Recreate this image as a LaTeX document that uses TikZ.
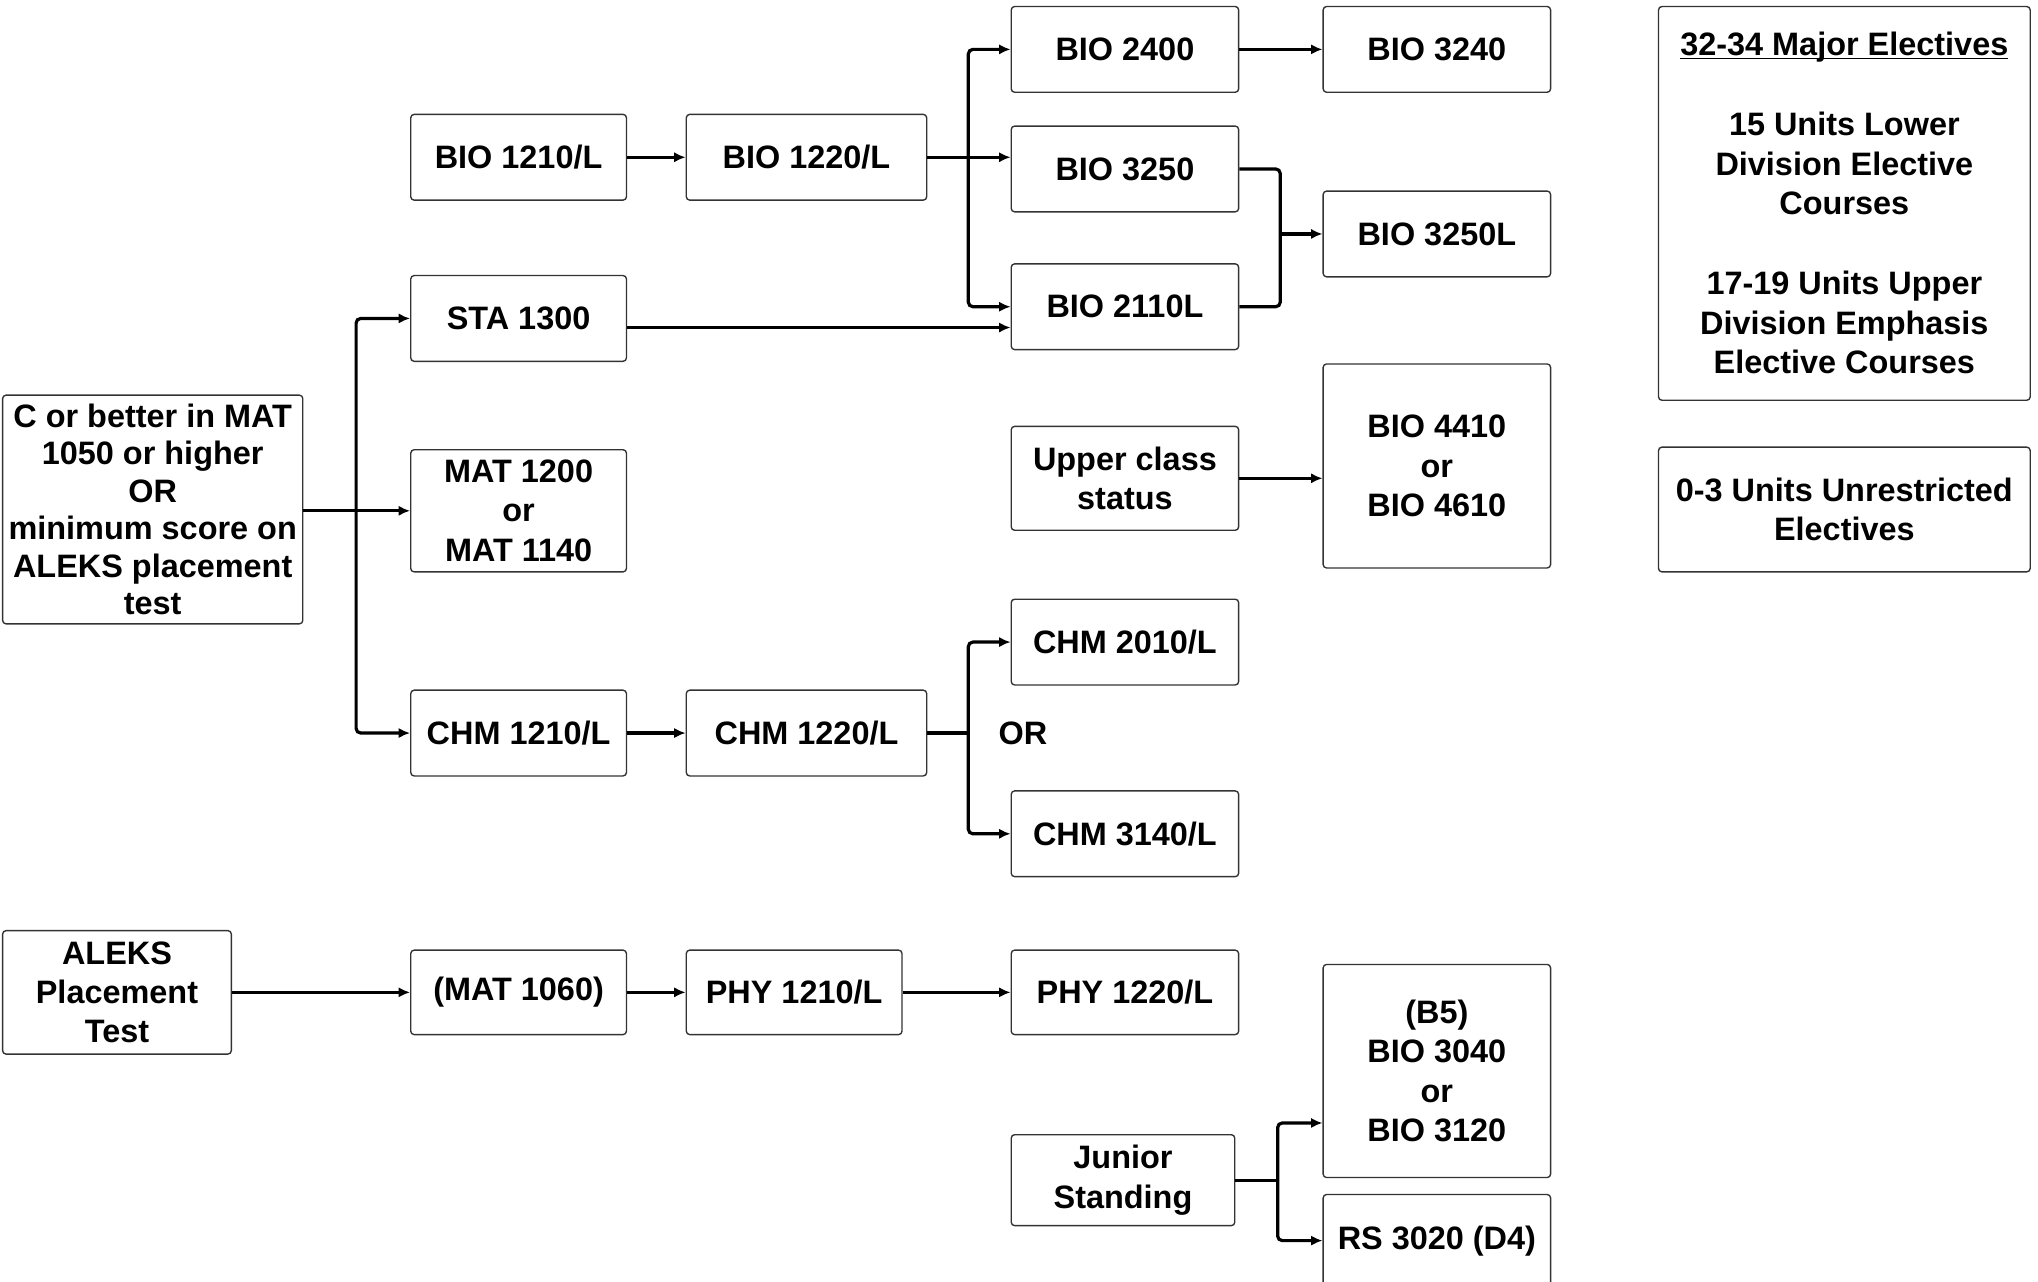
\documentclass[tikz,border=0pt]{standalone}
\usepackage{fontspec}
\setmainfont{Liberation Sans}
\usetikzlibrary{arrows.meta}

\tikzset{
  course/.style={draw=black!80, line width=0.6pt, rounded corners=1.5pt, align=center,
    inner sep=2pt, font=\fontsize{14.2}{17.2}\selectfont\bfseries},
  link/.style={line width=1.4pt, rounded corners=2pt, -{Latex[length=5pt,width=4.5pt]}},
  joint/.style={line width=1.4pt, rounded corners=2pt}
}

\begin{document}
\begin{tikzpicture}[x=0.02cm,y=-0.02cm]

\def\wa{3.32cm} % first column
  \def\wb{3.70cm} % second column
  \def\wc{3.50cm} % third and fourth column
  \def\hh{1.32cm}

\useasboundingbox (0,0) rectangle (1568,986);

% starting points
\node[course, minimum width=4.62cm, minimum height=3.52cm, font=\fontsize{14.2}{16.4}\selectfont\bfseries] (cbox) at (117.5,392)
  {C or better in MAT\\1050 or higher\\OR\\minimum score on\\ALEKS placement\\test};
\node[course, minimum width=3.52cm, minimum height=1.90cm] (aleks) at (90,763.5) {ALEKS\\Placement\\Test};

% first column
\node[course, minimum width=\wa, minimum height=\hh] (bio1210) at (399,121) {BIO 1210/L};
\node[course, minimum width=\wa, minimum height=\hh] (sta) at (399,245) {STA 1300};
\node[course, minimum width=\wa, minimum height=1.88cm] (mat) at (399,393) {MAT 1200\\or\\MAT 1140};
\node[course, minimum width=\wa, minimum height=\hh] (chm1210) at (399,564) {CHM 1210/L};
\node[course, minimum width=\wa, minimum height=1.30cm] (mat1060) at (399,763.5) {(MAT 1060)};

% second column
\node[course, minimum width=\wb, minimum height=\hh] (bio1220) at (620.5,121) {BIO 1220/L};
\node[course, minimum width=\wb, minimum height=\hh] (chm1220) at (620.5,564) {CHM 1220/L};
\node[course, minimum width=\wa, minimum height=1.30cm] (phy1210) at (611,763.5) {PHY 1210/L};

% third column
\node[course, minimum width=\wc, minimum height=\hh] (bio2400) at (865.5,38) {BIO 2400};
\node[course, minimum width=\wc, minimum height=\hh] (bio3250) at (865.5,130) {BIO 3250};
\node[course, minimum width=\wc, minimum height=\hh] (bio2110) at (865.5,236) {BIO 2110L};
\node[course, minimum width=\wc, minimum height=1.60cm] (upper) at (865.5,368) {Upper class\\status};
\node[course, minimum width=\wc, minimum height=\hh] (chm2010) at (865.5,494) {CHM 2010/L};
\node[font=\fontsize{14.2}{17.2}\selectfont\bfseries] (orlabel) at (787,564) {OR};
\node[course, minimum width=\wc, minimum height=\hh] (chm3140) at (865.5,641.5) {CHM 3140/L};
\node[course, minimum width=\wc, minimum height=1.30cm] (phy1220) at (865.5,763.5) {PHY 1220/L};
\node[course, minimum width=3.44cm, minimum height=1.40cm] (junior) at (864,908) {Junior\\Standing};

% fourth column
\node[course, minimum width=\wc, minimum height=\hh] (bio3240) at (1105.5,38) {BIO 3240};
\node[course, minimum width=\wc, minimum height=\hh] (bio3250l) at (1105.5,180) {BIO 3250L};
\node[course, minimum width=\wc, minimum height=3.14cm] (bio4410) at (1105.5,358.5) {BIO 4410\\or\\BIO 4610};
\node[course, minimum width=\wc, minimum height=3.28cm] (b5) at (1105.5,824) {(B5)\\BIO 3040\\or\\BIO 3120};
\node[course, minimum width=\wc, minimum height=1.42cm] (rs) at (1105.5,954.5) {RS 3020 (D4)};

% electives
\node[course, minimum width=5.72cm, minimum height=6.06cm] (major) at (1419,156.5)
  {\underline{\smash{32-34 Major Electives}}\vphantom{M}\\[18pt]15 Units Lower\\Division Elective\\Courses\\[18pt]17-19 Units Upper\\Division Emphasis\\Elective Courses};
\node[course, minimum width=5.72cm, minimum height=1.92cm] (unres) at (1419,392) {0-3 Units Unrestricted\\Electives};

% straight arrows
\foreach \a/\b in {bio1210/bio1220, bio2400/bio3240, chm1210/chm1220, aleks/mat1060, mat1060/phy1210, phy1210/phy1220}
  \draw[link] (\a) -- (\b);
\draw[link] (upper.east) -- (upper.east -| bio4410.west);

% from C or better
\coordinate (cb) at (274,393);
\draw[link] (cbox.east |- cb) -- (mat);
\draw[link] (cb) |- (sta);
\draw[link] (cb) |- (chm1210);

% from BIO 1220/L
\coordinate (bb) at (745,121);
\draw[link] (bio1220.east) -- (bio1220.east -| bio3250.west);
\draw[link] (bb) |- (bio2400);
\draw[link] (bb) |- (bio2110);
\draw[link] ([yshift=-0.14cm]sta.east) -- ([yshift=-0.14cm]sta.east -| bio2110.west);

% to BIO 3250L
\coordinate (jl) at (985,180);
\draw[joint] (bio3250.east) -| (jl);
\draw[joint] (bio2110.east) -| (jl);
\draw[link] (jl) -- (bio3250l);

% from CHM 1220/L
\coordinate (cc) at (745,564);
\draw[joint] (chm1220) -- (cc);
\draw[link] (cc) |- (chm2010);
\draw[link] (cc) |- (chm3140);

% from Junior Standing
\coordinate (js) at (983,908);
\draw[joint] (junior) -- (js);
\draw[link] (js) |- ([yshift=-0.8cm]b5.west);
\draw[link] (js) |- (rs);

\end{tikzpicture}
\end{document}
